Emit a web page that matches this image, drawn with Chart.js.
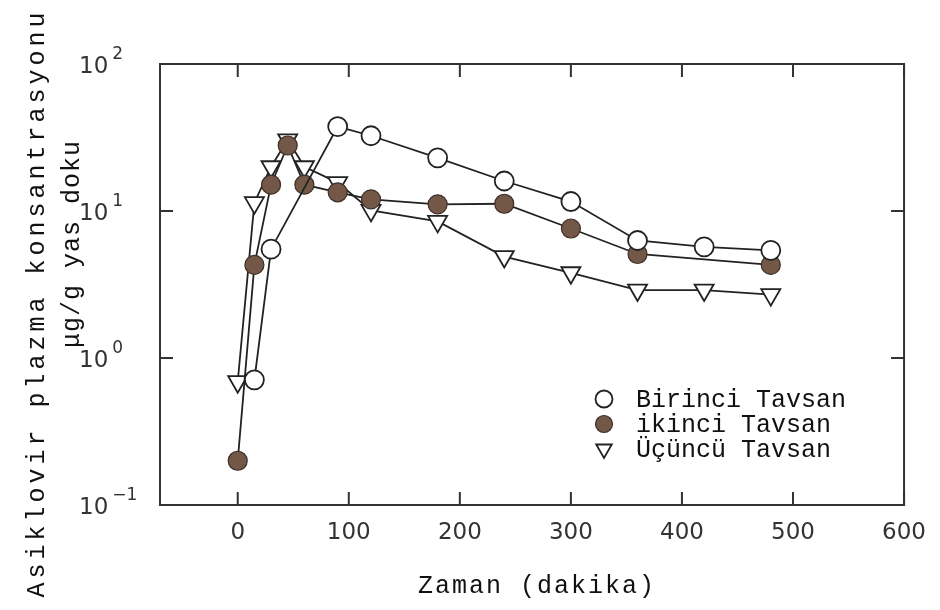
<!DOCTYPE html>
<html>
<head>
<meta charset="utf-8">
<script src="https://cdn.jsdelivr.net/npm/chart.js@4"></script>
<style>
  html, body { margin: 0; padding: 0; background: #fff; }
  #wrap { width: 940px; height: 610px; }
</style>
</head>
<body>
<div id="wrap"><canvas id="chart" width="940" height="610"></canvas></div>
<script>
// tick labels
const xTicks = [0, 100, 200, 300, 400, 500, 600];
const yTicks = [0.1, 1, 10, 100];
const yTickExp = ['\u22121', '0', '1', '2'];

// series (time in minutes, concentration in ug/g)
const birinciTime = [15, 30, 90, 120, 180, 240, 300, 360, 420, 480];
const birinciConc = [0.71, 5.5, 37.5, 32.5, 23, 16, 11.6, 6.3, 5.7, 5.4];
const ikinciTime = [0, 15, 30, 45, 60, 90, 120, 180, 240, 300, 360, 480];
const ikinciConc = [0.2, 4.3, 15.1, 27.9, 15.1, 13.4, 12, 11.1, 11.2, 7.6, 5.1, 4.3];
const ucuncuTime = [0, 15, 30, 45, 60, 90, 120, 180, 240, 300, 360, 420, 480];
const ucuncuConc = [0.69, 11.4, 20, 30.5, 20, 15.6, 10.1, 8.5, 4.9, 3.8, 2.9, 2.9, 2.7];

const seriesNames = ['Birinci Tavsan', 'ikinci Tavsan', 'Üçüncü Tavsan'];

const ink = '#222';
const serif = '"Liberation Mono", "DejaVu Sans Mono", monospace';
const sans = '"DejaVu Sans", "Liberation Sans", sans-serif';
const titleFont = '25px ' + serif;

function toPoints(xs, ys) {
    return xs.map((x, i) => ({ x: x, y: ys[i] }));
}

// frame, inward ticks, y labels with exponents, axis titles, legend
const decorPlugin = {
    id: 'decor',
    beforeDatasetsDraw(chart) {
        const ctx = chart.ctx;
        const a = chart.chartArea;
        const xs = chart.scales.x;
        const ys = chart.scales.y;
        const tl = 13;
        ctx.save();
        ctx.strokeStyle = '#333';
        ctx.lineWidth = 2;
        ctx.strokeRect(a.left, a.top, a.right - a.left, a.bottom - a.top);
        ctx.beginPath();
        xTicks.forEach(v => {
            const px = xs.getPixelForValue(v);
            ctx.moveTo(px, a.bottom); ctx.lineTo(px, a.bottom - tl);
            ctx.moveTo(px, a.top); ctx.lineTo(px, a.top + tl);
        });
        yTicks.forEach(v => {
            const py = ys.getPixelForValue(v);
            ctx.moveTo(a.left, py); ctx.lineTo(a.left + tl, py);
            ctx.moveTo(a.right, py); ctx.lineTo(a.right - tl, py);
        });
        ctx.stroke();
        ctx.restore();
    },
    afterDraw(chart) {
        const ctx = chart.ctx;
        const ys = chart.scales.y;
        ctx.save();
        ctx.fillStyle = '#333';
        ctx.textBaseline = 'alphabetic';
        ctx.textAlign = 'left';

        // y tick labels: 10 with superscript
        yTicks.forEach((v, i) => {
            const py = ys.getPixelForValue(v);
            ctx.font = '23px ' + sans;
            ctx.fillText('10', 79, py + 9);
            const w = ctx.measureText('10').width;
            ctx.font = '17px ' + sans;
            ctx.fillText(yTickExp[i], 79 + w + 4, py - 5);
        });

        // axis titles
        ctx.fillStyle = '#111';
        ctx.font = titleFont;
        ctx.textAlign = 'center';
        ctx.textBaseline = 'middle';
        ctx.letterSpacing = '2px';
        ctx.fillText('Zaman (dakika)', 537, 586);

        ctx.save();
        ctx.translate(37, 303);
        ctx.rotate(-Math.PI / 2);
        ctx.letterSpacing = '4px';
        ctx.fillText('Asiklovir plazma konsantrasyonu', 0, 0);
        ctx.restore();

        ctx.save();
        ctx.translate(72, 244);
        ctx.rotate(-Math.PI / 2);
        ctx.letterSpacing = '1px';
        ctx.fillText('\u03bcg/g yas doku', 0, 0);
        ctx.restore();

        // legend
        ctx.letterSpacing = '0px';
        ctx.textAlign = 'left';
        const rows = [399, 424, 449];
        chart.data.datasets.forEach((ds, i) => {
            const y = rows[i];
            ctx.fillStyle = ds.pointBackgroundColor;
            ctx.strokeStyle = ds.pointBorderColor;
            ctx.lineWidth = ds.pointBorderWidth;
            ctx.beginPath();
            if (ds.pointStyle === 'circle') {
                ctx.arc(604, y, 8.5, 0, Math.PI * 2);
            } else {
                const r = 9;
                ctx.moveTo(604 - r * 0.866, y - r * 0.5);
                ctx.lineTo(604 + r * 0.866, y - r * 0.5);
                ctx.lineTo(604, y + r);
                ctx.closePath();
            }
            ctx.fill();
            ctx.stroke();
            ctx.fillStyle = '#111';
            ctx.font = titleFont;
            ctx.textBaseline = 'middle';
            ctx.fillText(ds.label, 636, y + 1);
        });
        ctx.restore();
    }
};

const ctx = document.getElementById('chart').getContext('2d');
const chart = new Chart(ctx, {
    type: 'line',
    data: {
        datasets: [{
            label: seriesNames[0],
            data: toPoints(birinciTime, birinciConc),
            borderColor: ink,
            borderWidth: 1.8,
            pointStyle: 'circle',
            pointRadius: 9.5,
            pointBackgroundColor: '#ffffff',
            pointBorderColor: ink,
            pointBorderWidth: 1.8
        }, {
            label: seriesNames[1],
            data: toPoints(ikinciTime, ikinciConc),
            borderColor: ink,
            borderWidth: 1.8,
            pointStyle: 'circle',
            pointRadius: 9.5,
            pointBackgroundColor: '#735747',
            pointBorderColor: '#3e2f27',
            pointBorderWidth: 1.2
        }, {
            label: seriesNames[2],
            data: toPoints(ucuncuTime, ucuncuConc),
            borderColor: ink,
            borderWidth: 1.8,
            pointStyle: 'triangle',
            pointRotation: 180,
            pointRadius: 11,
            pointBackgroundColor: '#ffffff',
            pointBorderColor: ink,
            pointBorderWidth: 1.8
        }]
    },
    options: {
        responsive: false,
        animation: false,
        layout: { padding: { top: 64, right: 31, left: 0, bottom: 0 } },
        plugins: {
            legend: { display: false },
            tooltip: { enabled: false }
        },
        elements: { line: { tension: 0 } },
        scales: {
            x: {
                type: 'linear',
                min: -70,
                max: 600,
                afterBuildTicks: s => { s.ticks = xTicks.map(v => ({ value: v })); },
                afterFit: s => { s.height = 105; },
                grid: { display: false, drawTicks: false },
                border: { display: false },
                ticks: {
                    padding: 14,
                    color: '#333',
                    font: { family: sans, size: 23 }
                }
            },
            y: {
                type: 'logarithmic',
                min: 0.1,
                max: 100,
                afterFit: s => { s.width = 160; },
                grid: { display: false, drawTicks: false },
                border: { display: false },
                ticks: { display: false }
            }
        }
    },
    plugins: [decorPlugin]
});
</script>
</body>
</html>
